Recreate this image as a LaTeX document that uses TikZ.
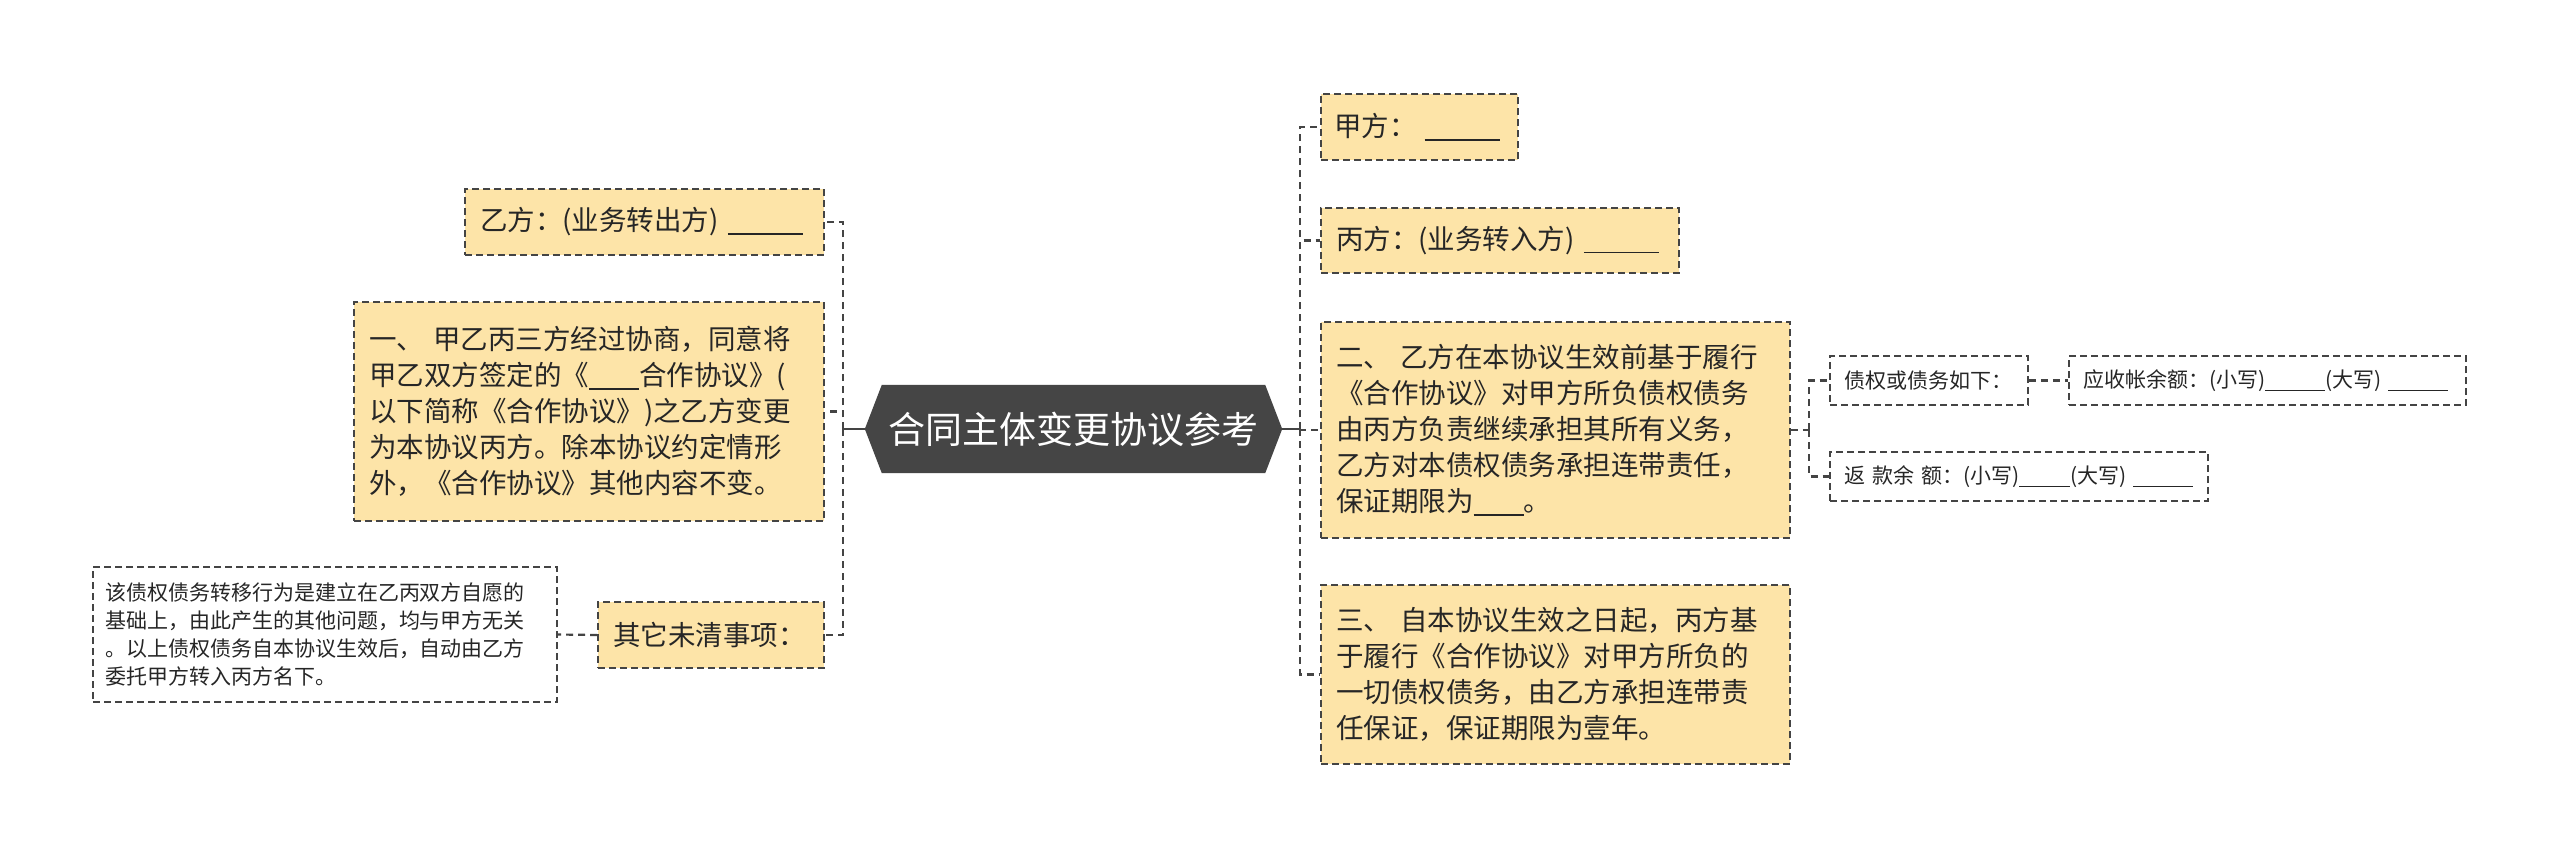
\documentclass[tikz,border=0pt]{standalone}
\usepackage{fontspec}
\setmainfont{Noto Sans CJK SC}
\usetikzlibrary{backgrounds}
\definecolor{peach}{RGB}{253,228,168}
\definecolor{edge}{RGB}{68,68,68}
\definecolor{hubfill}{RGB}{69,69,69}
\definecolor{ink}{RGB}{38,38,38}
\newcommand{\blankline}[1]{\rule[-4pt]{#1pt}{1.5pt}}
\begin{document}
\begin{tikzpicture}[x=1pt,y=-1pt,
  bigtext/.style={font=\fontsize{27.5}{36}\selectfont},
  smalltext/.style={font=\fontsize{21}{28}\selectfont},
  pbox/.style={draw=edge, line width=1.8pt, dash pattern=on 7pt off 4pt, fill=peach,
    inner xsep=15pt, inner ysep=0pt, align=left, text=ink, bigtext},
  wbox/.style={draw=edge, line width=1.6pt, dash pattern=on 7pt off 4pt, fill=white,
    inner xsep=14pt, inner ysep=0pt, align=left, text=ink, smalltext},
  conn/.style={draw=edge, line width=2.2pt, dash pattern=on 7pt off 5pt},
  solidc/.style={draw=edge, line width=2.2pt},
  hubnode/.style={inner sep=0pt, minimum width=417pt, minimum height=88pt, text=white,
    font=\fontsize{37}{42}\selectfont}
]
\begin{scope}[on background layer]
\fill[white] (0,0) rectangle (2560,859);
\end{scope}
\useasboundingbox (0,0) rectangle (2560,859);

% central
\node[hubnode] (hub) at (1073.5,429) {合同主体变更协议参考};
\begin{scope}[on background layer]
\fill[hubfill] (hub.west) -- ([xshift=17pt]hub.north west) -- ([xshift=-17pt]hub.north east)
  -- (hub.east) -- ([xshift=-17pt]hub.south east) -- ([xshift=17pt]hub.south west) -- cycle;
\end{scope}

% left side
\node[pbox, text width=329pt, minimum height=66pt] (yi) at (644.5,222)
  {乙方：(业务转出方) \blankline{75}};
\node[pbox, text width=440pt, minimum height=219pt] (one) at (589,411.5)
  {一、 甲乙丙三方经过协商，同意将\\甲乙双方签定的《\blankline{50}合作协议》(\\以下简称《合作协议》)之乙方变更\\为本协议丙方。除本协议约定情形\\外，《合作协议》其他内容不变。};
\node[pbox, text width=196pt, minimum height=66pt] (other) at (711,635)
  {其它未清事项：};
\node[wbox, inner xsep=12pt, text width=440pt, minimum height=135pt] (note) at (325,634.5)
  {该债权债务转移行为是建立在乙丙双方自愿的\\基础上，由此产生的其他问题，均与甲方无关\\。以上债权债务自本协议生效后，自动由乙方\\委托甲方转入丙方名下。};

% right side
\node[pbox, inner xsep=13pt, text width=171pt, minimum height=66pt] (jia) at (1419.5,127)
  {甲方：\hspace{8pt}\blankline{75}};
\node[pbox, text width=328pt, minimum height=65pt] (bing) at (1500,240.5)
  {丙方：(业务转入方) \blankline{75}};
\node[pbox, text width=439pt, minimum height=216pt] (two) at (1555.5,430)
  {二、 乙方在本协议生效前基于履行\\《合作协议》对甲方所负债权债务\\由丙方负责继续承担其所有义务，\\乙方对本债权债务承担连带责任，\\保证期限为\blankline{50}。};
\node[pbox, text width=439pt, minimum height=179pt] (three) at (1555.5,674.5)
  {三、 自本协议生效之日起，丙方基\\于履行《合作协议》对甲方所负的\\一切债权债务，由乙方承担连带责\\任保证，保证期限为壹年。};

\node[wbox, text width=170pt, minimum height=49pt] (debt) at (1929,380.5)
  {债权或债务如下：};
\node[wbox, text width=369pt, minimum height=49pt] (recv) at (2267.5,380.5)
  {应收帐余额：(小写)\blankline{60}(大写) \blankline{60}};
\node[wbox, text width=350pt, minimum height=49pt] (ret) at (2019,476.5)
  {返 款余 额：(小写)\blankline{51}(大写) \blankline{60}};

% connectors
\coordinate (lj) at (843,429);
\coordinate (rj) at (1300,429);
\coordinate (sj) at (1809,430);
\draw[solidc] (hub.west) -- (lj);
\draw[conn] (lj) |- (yi.east);
\draw[conn] (lj) |- (one.east);
\draw[conn] (lj) |- (other.east);
\draw[conn] (other.west) -- (note.east);
\draw[solidc] (hub.east) -- (rj);
\draw[conn] (rj) |- (jia.west);
\draw[conn] (rj) |- (bing.west);
\draw[conn] (rj) |- (two.west);
\draw[conn] (rj) |- (three.west);
\draw[conn] (two.east) -- (sj);
\draw[conn] (sj) |- (debt.west);
\draw[conn] (sj) |- (ret.west);
\draw[conn] (debt.east) -- (recv.west);
\end{tikzpicture}
\end{document}
